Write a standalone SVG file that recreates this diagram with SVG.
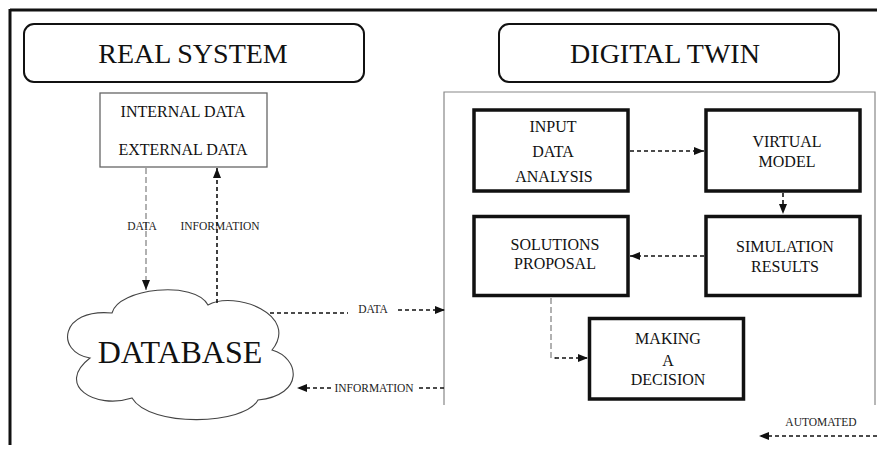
<svg xmlns="http://www.w3.org/2000/svg" width="877" height="450" viewBox="0 0 877 450" font-family="'Liberation Serif', 'DejaVu Serif', serif">
<defs>
<marker id="ah" markerUnits="userSpaceOnUse" markerWidth="10" markerHeight="10" viewBox="0 0 10 10" refX="10" refY="5" orient="auto">
<path d="M0,1 L10,5 L0,9 Z" fill="#111"/>
</marker>
<style>
text{font-family:'Liberation Serif','DejaVu Serif',serif}
.t{fill:#111;text-anchor:middle}
.title{font-size:28px}
.box{font-size:16px}
.lbl{font-size:11.5px;fill:#222}
.thick{fill:#fff;stroke:#111;stroke-width:3.5}
.dash{fill:none;stroke:#111;stroke-width:1.6;stroke-dasharray:4 3}
.gdash{fill:none;stroke:#888;stroke-width:1.3;stroke-dasharray:6 3}
</style>
</defs>
<rect width="877" height="450" fill="#fff"/>
<g id="frame">
<line x1="10" y1="10" x2="877" y2="10" stroke="#111" stroke-width="3"/>
<line x1="10" y1="9" x2="10" y2="445" stroke="#111" stroke-width="3"/>
<polyline points="444,405 444,92 875,92 875,405" fill="none" stroke="#888" stroke-width="1.2"/>
</g>
<g id="real-system">
<rect x="24" y="24" width="340" height="58" rx="10" fill="#fff" stroke="#111" stroke-width="2"/>
<text class="t title" x="193" y="63">REAL SYSTEM</text>
</g>
<g id="digital-twin">
<rect x="499" y="24" width="340" height="58" rx="10" fill="#fff" stroke="#111" stroke-width="2"/>
<text class="t title" x="665" y="63">DIGITAL TWIN</text>
</g>
<g id="data-sources">
<rect x="100" y="93" width="167" height="74" fill="#fff" stroke="#666" stroke-width="1.3"/>
<text class="t box" x="183" y="117">INTERNAL DATA</text>
<text class="t box" x="183" y="155">EXTERNAL DATA</text>
</g>
<g id="database">
<path d="M112,313 C118,288 195,280 208,305 C235,290 300,315 272,350 C300,358 305,395 258,400 C245,425 150,428 132,398 C95,410 55,385 90,358 C55,352 60,308 112,313 Z" fill="#fff" stroke="#444" stroke-width="1.1"/>
<text class="t" x="180" y="363" font-size="32">DATABASE</text>
</g>
<g id="input-data-analysis">
<rect class="thick" x="474" y="110" width="154" height="81"/>
<text class="t box" x="553" y="132">INPUT</text>
<text class="t box" x="553" y="157">DATA</text>
<text class="t box" x="554" y="182">ANALYSIS</text>
</g>
<g id="virtual-model">
<rect class="thick" x="706" y="110" width="154" height="81"/>
<text class="t box" x="787" y="147">VIRTUAL</text>
<text class="t box" x="787" y="167">MODEL</text>
</g>
<g id="simulation-results">
<rect class="thick" x="706" y="216.5" width="154" height="79"/>
<text class="t box" x="785" y="252">SIMULATION</text>
<text class="t box" x="785" y="272">RESULTS</text>
</g>
<g id="solutions-proposal">
<rect class="thick" x="474" y="216.5" width="154" height="79"/>
<text class="t box" x="555" y="250">SOLUTIONS</text>
<text class="t box" x="555" y="269">PROPOSAL</text>
</g>
<g id="making-a-decision">
<rect class="thick" x="589.5" y="318.5" width="154" height="80.5"/>
<text class="t box" x="668" y="344">MAKING</text>
<text class="t box" x="668" y="366">A</text>
<text class="t box" x="668" y="385">DECISION</text>
</g>
<g id="connectors">
<line class="gdash" x1="146" y1="168" x2="146" y2="290" marker-end="url(#ah)"/>
<text class="t lbl" x="142" y="230">DATA</text>
<line class="dash" x1="217" y1="303" x2="217" y2="168" marker-end="url(#ah)"/>
<text class="t lbl" x="220" y="230">INFORMATION</text>
<line class="dash" x1="270" y1="313" x2="348" y2="313"/>
<text class="t lbl" x="373" y="313">DATA</text>
<line class="dash" x1="398" y1="310" x2="445" y2="310" marker-end="url(#ah)"/>
<line class="dash" x1="444" y1="388" x2="416" y2="388"/>
<text class="t lbl" x="374" y="392">INFORMATION</text>
<line class="dash" x1="331" y1="388" x2="297" y2="388" marker-end="url(#ah)"/>
<line class="dash" x1="630" y1="151" x2="704" y2="151" marker-end="url(#ah)"/>
<line class="dash" x1="783" y1="193" x2="783" y2="214" marker-end="url(#ah)"/>
<line class="dash" x1="704" y1="256" x2="630" y2="256" marker-end="url(#ah)"/>
<polyline class="gdash" points="551,298 551,358 556,358"/>
<line class="dash" x1="555" y1="358" x2="588" y2="358" marker-end="url(#ah)"/>
<text class="t lbl" x="821" y="426">AUTOMATED</text>
<line class="dash" x1="877" y1="436" x2="759" y2="436" marker-end="url(#ah)"/>
</g>
</svg>
